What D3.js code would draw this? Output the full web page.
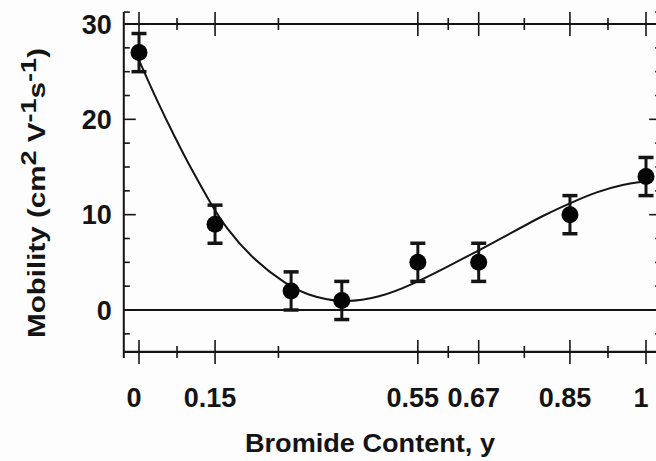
<!DOCTYPE html>
<html>
<head>
<meta charset="utf-8">
<script src="https://cdn.jsdelivr.net/npm/d3@7"></script>
<style>
  html, body { margin: 0; padding: 0; background: #fdfdfd; }
  svg { display: block; }
  text { font-family: "Liberation Sans", Arial, sans-serif; font-weight: bold; fill: #141414; }
</style>
</head>
<body>
<svg id="chart" width="656" height="461"></svg>
<script>
// ---- data ----
const bromide  = [0, 0.15, 0.30, 0.40, 0.55, 0.67, 0.85, 1.0];
const mobility = [27, 9, 2, 1, 5, 5, 10, 14];
const errors   = [2, 2, 2, 2, 2, 2, 2, 2];

// fitted guide curve
const fitX = [0, 0.035, 0.07, 0.105, 0.14, 0.17, 0.225, 0.29, 0.33, 0.40, 0.475, 0.54, 0.607, 0.672, 0.738, 0.804, 0.85, 0.903, 0.955, 1.0];
const fitY = [26.2, 22.0, 18.2, 14.6, 11.3, 8.7, 5.3, 2.7, 1.6, 0.7, 1.3, 2.7, 4.5, 6.3, 8.2, 10.1, 11.2, 12.4, 13.2, 13.5];

const xTickLabels  = [0, 0.15, 0.55, 0.67, 0.85, 1];
const xMinorTicks  = [0.075, 0.275, 0.61, 0.76, 0.925];
const yTickLabels  = [0, 10, 20, 30];
const yMinorTicks  = [-2.5, 2.5, 5, 7.5, 12.5, 15, 17.5, 22.5, 25, 27.5, 31.25];

const xLabel = "Bromide Content, y";

// ---- scales ----
const x = d3.scaleLinear().domain([0, 1]).range([139, 646]);
const y = d3.scaleLinear().domain([0, 30]).range([310, 24]);

const xMin = -0.03, xMax = 1.03;
const yBottom = -4.4, yTop = 31.25;

const svg = d3.select("#chart");
const ink = "#141414";

// ---- frame lines ----
const g = svg.append("g");
g.append("line").attr("x1", x(xMin)).attr("x2", x(xMin))
  .attr("y1", y(yBottom) + 6).attr("y2", y(yTop))
  .attr("stroke", ink).attr("stroke-width", 2);
g.append("line").attr("x1", x(xMax)).attr("x2", x(xMax))
  .attr("y1", y(yBottom)).attr("y2", y(yTop))
  .attr("stroke", ink).attr("stroke-width", 2);
[30, 0, yBottom].forEach(v => {
  g.append("line").attr("x1", x(xMin)).attr("x2", x(xMax))
    .attr("y1", y(v)).attr("y2", y(v))
    .attr("stroke", ink).attr("stroke-width", v === 0 ? 1.8 : 2.2);
});

// x ticks (cross the top and bottom lines)
[30, yBottom].forEach(v => {
  g.selectAll(null).data(xTickLabels).enter().append("line")
    .attr("x1", d => x(d)).attr("x2", d => x(d))
    .attr("y1", y(v) - 12).attr("y2", y(v) + 12)
    .attr("stroke", ink).attr("stroke-width", 1.6);
  g.selectAll(null).data(xMinorTicks).enter().append("line")
    .attr("x1", d => x(d)).attr("x2", d => x(d))
    .attr("y1", y(v) - 6).attr("y2", y(v) + 6)
    .attr("stroke", ink).attr("stroke-width", 1.6);
});

// y ticks (inward on left and right)
[[x(xMin), 1], [x(xMax), -1]].forEach(([px, dir]) => {
  g.selectAll(null).data(yTickLabels).enter().append("line")
    .attr("x1", px).attr("x2", px + dir * 12)
    .attr("y1", d => y(d)).attr("y2", d => y(d))
    .attr("stroke", ink).attr("stroke-width", 1.6);
  g.selectAll(null).data(yMinorTicks).enter().append("line")
    .attr("x1", px).attr("x2", px + dir * 6)
    .attr("y1", d => y(d)).attr("y2", d => y(d))
    .attr("stroke", ink).attr("stroke-width", 1.6);
});

// tick labels
g.selectAll(null).data(yTickLabels).enter().append("text")
  .attr("x", x(xMin) - 12).attr("y", d => y(d) + 9.5)
  .attr("text-anchor", "end").attr("font-size", 27)
  .text(d => d);

g.selectAll(null).data(xTickLabels).enter().append("text")
  .attr("x", d => x(d) - 5).attr("y", 407)
  .attr("text-anchor", "middle").attr("font-size", 27)
  .text(d => d);

// axis titles
svg.append("text")
  .attr("x", 370).attr("y", 452)
  .attr("text-anchor", "middle").attr("font-size", 25)
  .attr("textLength", 250).attr("lengthAdjust", "spacingAndGlyphs")
  .text(xLabel);

const yt = svg.append("text")
  .attr("transform", "translate(45,193) rotate(-90)")
  .attr("text-anchor", "middle").attr("font-size", 24)
  .attr("textLength", 290).attr("lengthAdjust", "spacingAndGlyphs");
yt.append("tspan").text("Mobility (cm");
yt.append("tspan").attr("dy", -9).attr("font-size", 22).text("2");
yt.append("tspan").attr("dy", 9).text(" V");
yt.append("tspan").attr("dy", -9).attr("font-size", 22).text("-1");
yt.append("tspan").attr("dy", 9).text("s");
yt.append("tspan").attr("dy", -9).attr("font-size", 22).text("-1");
yt.append("tspan").attr("dy", 9).text(")");

// ---- fit curve ----
const fit = fitX.map((v, i) => [v, fitY[i]]);
svg.append("path")
  .datum(fit)
  .attr("fill", "none").attr("stroke", ink).attr("stroke-width", 2)
  .attr("d", d3.line().x(d => x(d[0])).y(d => y(d[1])).curve(d3.curveBasis));

// ---- error bars and points ----
const pts = bromide.map((b, i) => ({ b, m: mobility[i], e: errors[i] }));
const pg = svg.append("g");
pg.selectAll(null).data(pts).enter().append("line")
  .attr("x1", d => x(d.b)).attr("x2", d => x(d.b))
  .attr("y1", d => y(d.m - d.e)).attr("y2", d => y(d.m + d.e))
  .attr("stroke", ink).attr("stroke-width", 3);
[-1, 1].forEach(s => {
  pg.selectAll(null).data(pts).enter().append("line")
    .attr("x1", d => x(d.b) - 7.5).attr("x2", d => x(d.b) + 7.5)
    .attr("y1", d => y(d.m + s * d.e)).attr("y2", d => y(d.m + s * d.e))
    .attr("stroke", ink).attr("stroke-width", 3.5);
});
pg.selectAll(null).data(pts).enter().append("circle")
  .attr("cx", d => x(d.b)).attr("cy", d => y(d.m))
  .attr("r", 8.5).attr("fill", "#050505");
</script>
</body>
</html>
